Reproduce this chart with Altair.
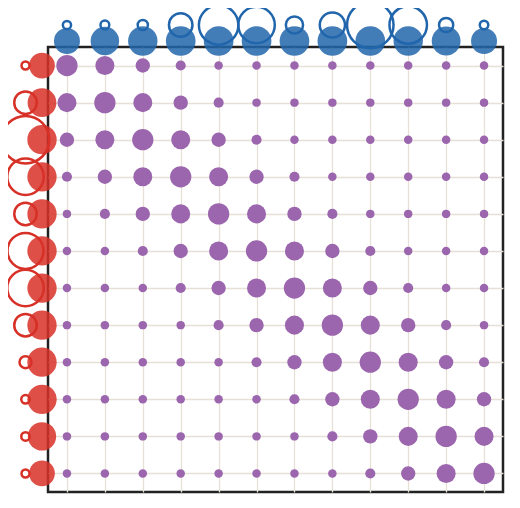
import altair as alt
import pandas as pd

idx = list(range(1, 13))

# matrix of read values (rows top->bottom, cols left->right)
matrix = [
    [1.00, 0.76, 0.35, 0.08, 0.00, 0.00, 0.00, 0.00, 0.00, 0.00, 0.00, 0.00],
    [0.76, 1.00, 0.76, 0.35, 0.08, 0.00, 0.00, 0.00, 0.00, 0.00, 0.00, 0.00],
    [0.35, 0.76, 1.00, 0.76, 0.35, 0.08, 0.00, 0.00, 0.00, 0.00, 0.00, 0.00],
    [0.08, 0.35, 0.76, 1.00, 0.76, 0.35, 0.08, 0.00, 0.00, 0.00, 0.00, 0.00],
    [0.00, 0.08, 0.35, 0.76, 1.00, 0.76, 0.35, 0.08, 0.00, 0.00, 0.00, 0.00],
    [0.00, 0.00, 0.08, 0.35, 0.76, 1.00, 0.76, 0.35, 0.08, 0.00, 0.00, 0.00],
    [0.00, 0.00, 0.00, 0.08, 0.35, 0.76, 1.00, 0.76, 0.35, 0.08, 0.00, 0.00],
    [0.00, 0.00, 0.00, 0.00, 0.08, 0.35, 0.76, 1.00, 0.76, 0.35, 0.08, 0.00],
    [0.00, 0.00, 0.00, 0.00, 0.00, 0.08, 0.35, 0.76, 1.00, 0.76, 0.35, 0.08],
    [0.00, 0.00, 0.00, 0.00, 0.00, 0.00, 0.08, 0.35, 0.76, 1.00, 0.76, 0.35],
    [0.00, 0.00, 0.00, 0.00, 0.00, 0.00, 0.00, 0.08, 0.35, 0.76, 1.00, 0.76],
    [0.00, 0.00, 0.00, 0.00, 0.00, 0.00, 0.00, 0.00, 0.08, 0.35, 0.76, 1.00],
]

# marginal values (top = columns, left = rows)
top_total = [26.0, 28.5, 29.4, 29.7, 29.7, 29.7, 29.7, 29.7, 29.7, 29.4, 28.8, 26.0]
top_ring = [8.2, 8.8, 10.2, 23.5, 39.5, 36.5, 17.2, 25.2, 46.5, 37.5, 14.2, 8.5]
left_total = [25.7, 28.7, 29.3, 29.3, 29.3, 29.3, 29.3, 29.3, 29.3, 29.3, 28.3, 25.7]
left_ring = [8.0, 22.5, 47.5, 36.5, 22.5, 36.0, 36.5, 22.5, 12.0, 8.5, 8.5, 8.0]

cells = pd.DataFrame(
    [{"row": r, "col": c, "v": matrix[r - 1][c - 1]} for r in idx for c in idx]
)
top = pd.DataFrame({"col": idx, "total": top_total, "ring": top_ring})
left = pd.DataFrame({"row": idx, "total": left_total, "ring": left_ring})

grid_axis = alt.Axis(
    labels=False, ticks=False, domain=False, title=None, grid=True,
    gridColor="#e6e0d6", gridWidth=1.3,
)
X = alt.X("col:O", scale=alt.Scale(type="point", padding=0.5), axis=grid_axis)
Y = alt.Y("row:O", scale=alt.Scale(type="point", padding=0.5), axis=grid_axis)

marg_scale = alt.Scale(type="pow", exponent=2, domain=[0, 50], range=[0, 2500])

base_cells = alt.Chart(cells).mark_circle(color="#9b66ae", opacity=1).encode(
    x=X,
    y=Y,
    size=alt.Size("v:Q", scale=alt.Scale(domain=[0, 1], range=[72, 454]), legend=None),
)

top_fill = alt.Chart(top).mark_circle(color="#2166ac", opacity=0.85).encode(
    x=X,
    y=alt.value(-6),
    size=alt.Size("total:Q", scale=marg_scale, legend=None),
)
top_rings = alt.Chart(top).mark_point(
    shape="circle", filled=False, color="#2166ac", strokeWidth=2.5, opacity=1
).encode(
    x=X,
    y=alt.value(-22),
    size=alt.Size("ring:Q", scale=marg_scale, legend=None),
)
left_fill = alt.Chart(left).mark_circle(color="#d73027", opacity=0.85).encode(
    y=Y,
    x=alt.value(-6),
    size=alt.Size("total:Q", scale=marg_scale, legend=None),
)
left_rings = alt.Chart(left).mark_point(
    shape="circle", filled=False, color="#d73027", strokeWidth=2.5, opacity=1
).encode(
    y=Y,
    x=alt.value(-22.5),
    size=alt.Size("ring:Q", scale=marg_scale, legend=None),
)

chart = (
    alt.layer(base_cells, top_fill, top_rings, left_fill, left_rings)
    .resolve_scale(size="independent")
    .properties(
        width=455,
        height=445,
        padding={"left": 40, "top": 39, "right": 9, "bottom": 9},
        autosize=alt.AutoSizeParams(type="none"),
    )
    .configure_view(stroke="#222222", strokeWidth=2.5)
)

chart.save("out.html", embed_options={"renderer": "svg", "actions": False})
